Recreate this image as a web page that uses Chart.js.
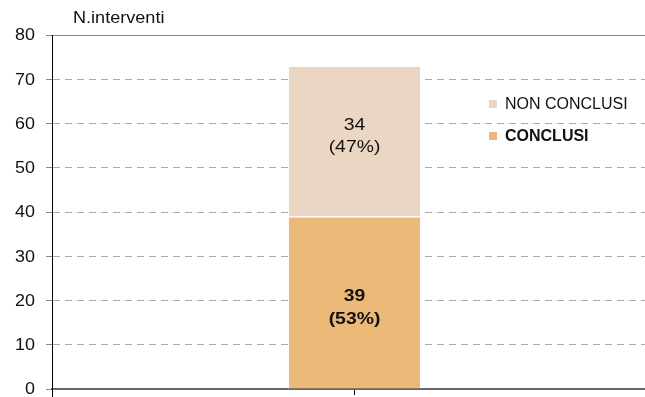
<!DOCTYPE html>
<html>
<head>
<meta charset="utf-8">
<script src="https://cdn.jsdelivr.net/npm/chart.js@4"></script>
<style>
  html, body { margin: 0; padding: 0; background: #fff; overflow: hidden; }
  #wrap { width: 662px; height: 397px; }
</style>
</head>
<body>
<div id="wrap"><canvas id="interventiChart"></canvas></div>
<script>
const categories = [''];
const seriesNames = ['CONCLUSI', 'NON CONCLUSI'];
const conclusi = [39];
const nonConclusi = [34];
const percentuali = ['53%', '47%'];
const yTicks = [0, 10, 20, 30, 40, 50, 60, 70, 80];

const FONT = '"Liberation Sans", Arial, sans-serif';
const colors = ['#EBB978', '#EBD6C3'];

// text with a horizontal stretch factor
function wideText(ctx, txt, x, y, font, k, align) {
    ctx.save();
    ctx.font = font;
    ctx.textBaseline = 'middle';
    ctx.textAlign = align || 'center';
    ctx.translate(x, y);
    ctx.scale(k, 1);
    ctx.fillText(txt, 0, 0);
    ctx.restore();
}

// title, tick labels, segment labels and legend
const extras = {
    id: 'extras',
    afterDraw(chart) {
        const ctx = chart.ctx;
        const area = chart.chartArea;
        const yScale = chart.scales.y;
        ctx.save();
        ctx.fillStyle = '#111';

        wideText(ctx, 'N.interventi', 73, 19, '16px ' + FONT, 1.13, 'left');

        yScale.ticks.forEach(t => {
            wideText(ctx, String(t.value), 35, yScale.getPixelForValue(t.value) + 1, '16px ' + FONT, 1.12, 'right');
        });

        // y axis runs a little past the baseline
        ctx.strokeStyle = '#000';
        ctx.lineWidth = 1;
        ctx.beginPath();
        ctx.moveTo(area.left + 0.5, area.bottom);
        ctx.lineTo(area.left + 0.5, area.bottom + 9);
        ctx.stroke();

        const offsets = [[-6.5, 17], [-15.5, 6]];
        chart.data.datasets.forEach((ds, i) => {
            const bar = chart.getDatasetMeta(i).data[0];
            const cy = (bar.y + bar.base) / 2;
            const f = (i === 0 ? 'bold ' : '') + '17px ' + FONT;
            wideText(ctx, String(ds.data[0]), bar.x, cy + offsets[i][0], f, 1.14);
            wideText(ctx, '(' + percentuali[i] + ')', bar.x, cy + offsets[i][1], f, 1.14);
        });

        // legend, top entry is the upper segment
        const items = chart.data.datasets.slice().reverse();
        items.forEach((ds, k) => {
            const y = 104 + k * 32;
            ctx.fillStyle = ds.backgroundColor;
            ctx.fillRect(489, y - 4, 8, 8);
            ctx.fillStyle = '#111';
            const f = (ds.label === 'CONCLUSI' ? 'bold ' : '') + '16px ' + FONT;
            wideText(ctx, ds.label, 505, y + 1, f, 1, 'left');
        });
        ctx.restore();
    }
};

new Chart(document.getElementById('interventiChart'), {
    type: 'bar',
    data: {
        labels: categories,
        datasets: [
            {
                label: seriesNames[0],
                data: conclusi,
                backgroundColor: colors[0],
                borderColor: '#ffffff',
                borderWidth: 1
            },
            {
                label: seriesNames[1],
                data: nonConclusi,
                backgroundColor: colors[1],
                borderColor: '#ffffff',
                borderWidth: 1
            }
        ]
    },
    options: {
        responsive: true,
        maintainAspectRatio: false,
        animation: false,
        layout: { padding: { top: 35, right: 5, left: 46, bottom: 2 } },
        datasets: {
            bar: { categoryPercentage: 1, barPercentage: 0.22 }
        },
        plugins: {
            legend: { display: false },
            tooltip: { enabled: false }
        },
        scales: {
            x: {
                stacked: true,
                grid: {
                    drawOnChartArea: false,
                    offset: false,
                    color: '#000',
                    tickLength: 6
                },
                border: { color: '#666', width: 2 },
                ticks: { display: false }
            },
            y: {
                stacked: true,
                min: 0,
                max: 80,
                afterBuildTicks: axis => { axis.ticks = yTicks.map(v => ({ value: v })); },
                grid: {
                    color: ctx => ctx.tick && ctx.tick.value === 80 ? '#888' : '#aaa',
                    lineWidth: 1,
                    tickLength: 6,
                    tickColor: '#888'
                },
                border: {
                    color: '#000',
                    width: 1,
                    dash: ctx => ctx.tick && ctx.tick.value === 80 ? [] : [7, 5]
                },
                ticks: { display: false }
            }
        }
    },
    plugins: [extras]
});
</script>
</body>
</html>
